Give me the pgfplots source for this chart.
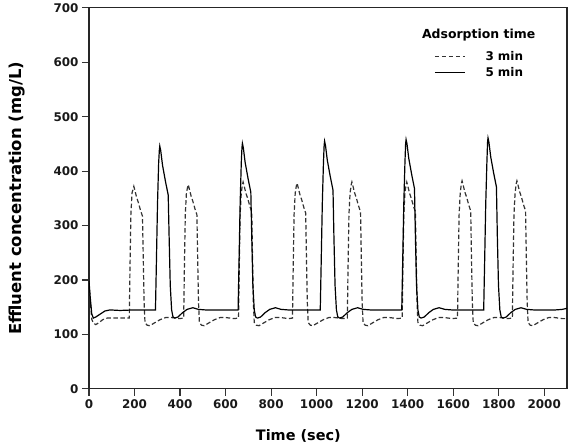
\documentclass[border=0pt]{standalone}
\usepackage{fontspec}
\setmainfont{DejaVu Sans}
\usepackage{pgfplots}
\pgfplotsset{compat=1.18}
\begin{document}
\begin{tikzpicture}
\begin{axis}[
  scale only axis,
  width=478bp, height=381bp,
  xmin=0, xmax=2100, ymin=0, ymax=700,
  xtick={0,200,...,2000}, ytick={0,100,...,700},
  tick align=outside, xtick pos=left, ytick pos=left,
  major tick length=7bp,
  tick style={line width=1.1bp, color=black!80},
  axis line style={line width=1.3bp, color=black!85},
  /pgf/number format/assume math mode=true,
  /pgf/number format/1000 sep={},
  ticklabel style={font=\bfseries\fontsize{12}{12}\selectfont, color=black!90},
  xlabel={Time (sec)}, ylabel={Effluent concentration (mg/L)},
  every axis x label/.style={at={(axis description cs:0.438,-0.123)}, anchor=center, font=\bfseries\fontsize{14.5}{15}\selectfont},
  every axis y label/.style={at={(axis description cs:-0.1506,0.5)}, anchor=center, rotate=90, font=\bfseries\fontsize{16.5}{17}\selectfont},
  legend style={at={(axis cs:1503,628)}, anchor=north west, draw=none, fill=none,
    font=\bfseries\fontsize{12}{12}\selectfont, row sep=1.5bp,
    nodes={inner xsep=4bp}},
  legend image code/.code={\draw[#1] (0bp,0bp) -- (30bp,0bp);},
  clip=true,
]
\addplot[black!80, line width=1.2bp, dash pattern=on 4.5bp off 2.5bp] coordinates {
(0,195) (5,165) (12,128) (19,121) (30,118) (45,122) (60,127) (80,130) (101,130) (150,130)
(177,130) (180,220) (184,320) (189,360) (194,367) (197,372) (202,364) (209,352) (217,342) (227,327) (235,317) (238,250) (242,160) (246,122) (255,117) (267,116) (287,121) (312,127) (337,131) (362,131) (397,129)
(416,130) (419,220) (423,320) (428,360) (433,370) (436,375) (441,367) (448,355) (456,345) (466,330) (474,320) (477,250) (481,160) (485,122) (494,117) (506,116) (526,121) (551,127) (576,131) (601,131) (636,129)
(657,130) (660,220) (664,320) (669,360) (674,375) (677,380) (682,372) (689,360) (697,350) (707,335) (715,325) (718,250) (722,160) (726,122) (735,117) (747,116) (767,121) (792,127) (817,131) (842,131) (877,129)
(894,130) (897,220) (901,320) (906,360) (911,373) (914,378) (919,370) (926,358) (934,348) (944,333) (952,323) (955,250) (959,160) (963,122) (972,117) (984,116) (1004,121) (1029,127) (1054,131) (1079,131) (1114,129)
(1135,130) (1138,220) (1142,320) (1147,360) (1152,375) (1155,380) (1160,372) (1167,360) (1175,350) (1185,335) (1193,325) (1196,250) (1200,160) (1204,122) (1213,117) (1225,116) (1245,121) (1270,127) (1295,131) (1320,131) (1355,129)
(1376,130) (1379,220) (1383,320) (1388,360) (1393,375) (1396,380) (1401,372) (1408,360) (1416,350) (1426,335) (1434,325) (1437,250) (1441,160) (1445,122) (1454,117) (1466,116) (1486,121) (1511,127) (1536,131) (1561,131) (1596,129)
(1619,130) (1622,220) (1626,320) (1631,360) (1636,377) (1639,382) (1644,374) (1651,362) (1659,352) (1669,337) (1677,327) (1680,250) (1684,160) (1688,122) (1697,117) (1709,116) (1729,121) (1754,127) (1779,131) (1804,131) (1839,129)
(1860,130) (1863,220) (1867,320) (1872,360) (1877,377) (1880,382) (1885,374) (1892,362) (1900,352) (1910,337) (1918,327) (1921,250) (1925,160) (1929,122) (1938,117) (1950,116) (1970,121) (1995,127) (2020,131) (2045,131) (2080,129) (2100,129)
};
\addlegendentry{\kern16bp 3 min}
\addplot[black, line width=1.2bp] coordinates {
(0,198) (5,170) (12,138) (19,130) (30,132) (48,137) (70,143) (92,145) (136,144) (200,145)
(292,145) (296,230) (301,340) (306,415) (309,438) (311,446) (315,438) (323,411) (336,381) (348,356) (352,280) (357,190) (363,145) (369,132) (377,130) (391,132) (411,140) (431,146) (456,149) (481,146) (511,145)
(655,145) (659,230) (664,340) (669,415) (672,443) (674,451) (678,443) (686,416) (699,386) (711,361) (715,280) (720,190) (726,145) (732,132) (740,130) (754,132) (774,140) (794,146) (819,149) (844,146) (874,145)
(1016,145) (1020,230) (1025,340) (1030,415) (1033,447) (1035,455) (1039,447) (1047,420) (1060,390) (1072,365) (1076,280) (1081,190) (1087,145) (1093,132) (1101,130) (1115,132) (1135,140) (1155,146) (1180,149) (1205,146) (1235,145)
(1374,145) (1378,230) (1383,340) (1388,415) (1391,450) (1393,458) (1397,450) (1405,423) (1418,393) (1430,368) (1434,280) (1439,190) (1445,145) (1451,132) (1459,130) (1473,132) (1493,140) (1513,146) (1538,149) (1563,146) (1593,145)
(1734,145) (1738,230) (1743,340) (1748,415) (1751,453) (1753,461) (1757,453) (1765,426) (1778,396) (1790,371) (1794,280) (1799,190) (1805,145) (1811,132) (1819,130) (1833,132) (1853,140) (1873,146) (1898,149) (1923,146) (1953,145) (2050,145) (2080,146) (2100,148)
};
\addlegendentry{\kern16bp 5 min}
\node[font=\bfseries\fontsize{12.5}{12.5}\selectfont, anchor=center] at (axis cs:1712,650) {Adsorption time};
\end{axis}
\path ([shift={(-89bp,-57bp)}]current axis.south west) rectangle ([shift={(7bp,5bp)}]current axis.north east);
\end{tikzpicture}
\end{document}
